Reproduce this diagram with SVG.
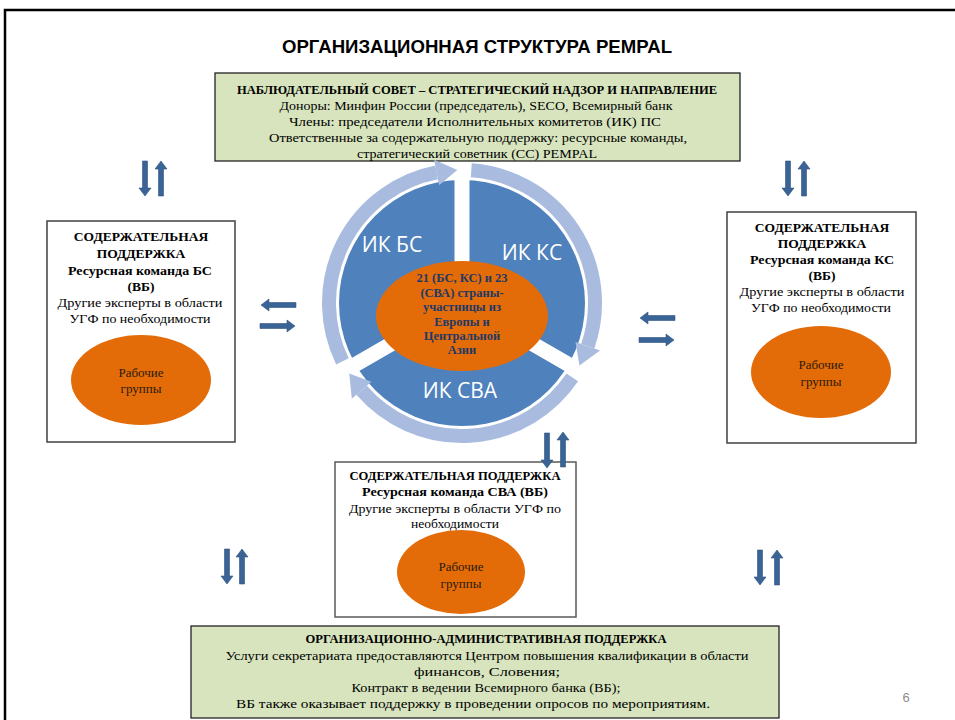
<svg xmlns="http://www.w3.org/2000/svg" width="955" height="720" viewBox="0 0 955 720">
<style>
.t{font-family:"Liberation Serif","DejaVu Serif",serif;fill:#000;text-anchor:middle}
.b{font-weight:bold}
.s13{font-size:13.5px}
.s12{font-size:13px}
.box{fill:#fff;stroke:#404040;stroke-width:1.5}
.gbox{fill:#d7e4bd;stroke:#222;stroke-width:1.3}
.wg{fill:#e36c09}
.wgt{font-family:"Liberation Serif","DejaVu Serif",serif;font-size:13px;fill:#2b1a0a;text-anchor:middle}
.ik{font-family:"Open Sans","Liberation Sans",sans-serif;font-size:21px;fill:#fff;text-anchor:middle}
.ring{fill:none;stroke:#a9bcdf;stroke-width:14}
.head{fill:#a9bcdf}
.arr{fill:#3b6496;stroke:#2f5282;stroke-width:0.6}
</style>
<defs>
<path id="ad" d="M-2.5,0 H2.5 V27 H6 L0,35 L-6,27 H-2.5 Z"/>
</defs>
<rect width="955" height="720" fill="#fff"/>
<path d="M5,720 V10 H955" fill="none" stroke="#000" stroke-width="2.5"/>
<text x="477" y="53" font-family="Liberation Sans,Arial,sans-serif" font-weight="bold" font-size="17.5" text-anchor="middle" textLength="390" lengthAdjust="spacingAndGlyphs">ОРГАНИЗАЦИОННАЯ СТРУКТУРА PEMPAL</text>

<g id="supervisory-board">
<rect class="gbox" x="215" y="73" width="525" height="88"/>
<text class="t b s13" x="477" y="94" textLength="480" lengthAdjust="spacingAndGlyphs">НАБЛЮДАТЕЛЬНЫЙ СОВЕТ – СТРАТЕГИЧЕСКИЙ НАДЗОР И НАПРАВЛЕНИЕ</text>
<text class="t s13" x="476" y="110" textLength="393" lengthAdjust="spacingAndGlyphs">Доноры: Минфин России (председатель), SECO, Всемирный банк</text>
<text class="t s13" x="475" y="126" textLength="372" lengthAdjust="spacingAndGlyphs">Члены: председатели Исполнительных комитетов (ИК) ПС</text>
<text class="t s13" x="478" y="142" textLength="418" lengthAdjust="spacingAndGlyphs">Ответственные за содержательную поддержку: ресурсные команды,</text>
<text class="t s13" x="477" y="158" textLength="240" lengthAdjust="spacingAndGlyphs">стратегический советник (СС) PEMPAL</text>
</g>

<g id="cycle">
<circle cx="462" cy="303" r="123" fill="#4f81bd"/>
<g stroke="#fff" stroke-width="15">
<line x1="462" y1="303" x2="462" y2="175"/>
<line x1="462" y1="303" x2="572" y2="366.5"/>
<line x1="462" y1="303" x2="352" y2="366.5"/>
</g>
<path class="ring" d="M342.46,361.31 A133,133 0 0 1 436.62,172.45"/>
<polygon class="head" points="439.10,185.21 434.14,159.69 457.36,170.08"/>
<path class="ring" d="M471.28,170.32 A133,133 0 0 1 587.75,346.30"/>
<polygon class="head" points="575.46,342.07 600.04,350.54 579.43,365.44"/>
<path class="ring" d="M572.26,377.37 A133,133 0 0 1 361.62,390.26"/>
<polygon class="head" points="371.44,381.73 351.81,398.79 349.22,373.48"/>
<text class="ik" x="392" y="252">ИК БС</text>
<text class="ik" x="532" y="260">ИК КС</text>
<text class="ik" x="460" y="398">ИК СВА</text>
</g>

<g id="member-countries">
<ellipse class="wg" cx="462" cy="316" rx="86" ry="55"/>
<g font-family="Liberation Serif,DejaVu Serif,serif" font-weight="bold" font-size="12.5" fill="#1f3864" text-anchor="middle">
<text x="462" y="282">21 (БС, КС) и 23</text>
<text x="462" y="297">(СВА) страны-</text>
<text x="462" y="311">участницы из</text>
<text x="462" y="326">Европы и</text>
<text x="462" y="340">Центральной</text>
<text x="462" y="354">Азии</text>
</g>
</g>

<g id="support-bs">
<rect class="box" x="47" y="221" width="188" height="221"/>
<text class="t b s13" x="141" y="241">СОДЕРЖАТЕЛЬНАЯ</text>
<text class="t b s13" x="141" y="258">ПОДДЕРЖКА</text>
<text class="t b s13" x="140" y="275" textLength="144" lengthAdjust="spacingAndGlyphs">Ресурсная команда БС</text>
<text class="t b s13" x="141" y="291">(ВБ)</text>
<text class="t s13" x="140" y="307" textLength="165" lengthAdjust="spacingAndGlyphs">Другие эксперты в области</text>
<text class="t s13" x="140" y="323" textLength="141" lengthAdjust="spacingAndGlyphs">УГФ по необходимости</text>
<ellipse class="wg" cx="141" cy="380" rx="70" ry="45"/>
<text class="wgt" x="141" y="377">Рабочие</text>
<text class="wgt" x="141" y="393">группы</text>
</g>

<g id="support-ks">
<rect class="box" x="727" y="212" width="189" height="231"/>
<text class="t b s13" x="822" y="232">СОДЕРЖАТЕЛЬНАЯ</text>
<text class="t b s13" x="822" y="248">ПОДДЕРЖКА</text>
<text class="t b s13" x="822" y="264" textLength="144" lengthAdjust="spacingAndGlyphs">Ресурсная команда КС</text>
<text class="t b s13" x="822" y="280">(ВБ)</text>
<text class="t s13" x="822" y="296" textLength="165" lengthAdjust="spacingAndGlyphs">Другие эксперты в области</text>
<text class="t s13" x="821" y="312" textLength="140" lengthAdjust="spacingAndGlyphs">УГФ по необходимости</text>
<ellipse class="wg" cx="821" cy="372" rx="70" ry="46"/>
<text class="wgt" x="821" y="369">Рабочие</text>
<text class="wgt" x="821" y="386">группы</text>
</g>

<g id="support-sva">
<rect class="box" x="335" y="462" width="241" height="155" style="stroke:#595959"/>
<text class="t b s13" x="455" y="480" textLength="211" lengthAdjust="spacingAndGlyphs">СОДЕРЖАТЕЛЬНАЯ ПОДДЕРЖКА</text>
<text class="t b s13" x="455" y="496" textLength="186" lengthAdjust="spacingAndGlyphs">Ресурсная команда СВА (ВБ)</text>
<text class="t s13" x="455" y="513" textLength="212" lengthAdjust="spacingAndGlyphs">Другие эксперты в области УГФ по</text>
<text class="t s13" x="455" y="528">необходимости</text>
<ellipse class="wg" cx="461" cy="572" rx="64" ry="42"/>
<text class="wgt" x="461" y="571">Рабочие</text>
<text class="wgt" x="461" y="588">группы</text>
</g>

<g id="admin-support">
<rect class="gbox" x="191" y="626" width="588" height="92"/>
<text class="t b s12" x="486" y="643" textLength="361" lengthAdjust="spacingAndGlyphs">ОРГАНИЗАЦИОННО-АДМИНИСТРАТИВНАЯ ПОДДЕРЖКА</text>
<text class="t s12" x="487" y="660" textLength="523" lengthAdjust="spacingAndGlyphs">Услуги секретариата предоставляются Центром повышения квалификации в области</text>
<text class="t s12" x="487" y="676" textLength="146" lengthAdjust="spacingAndGlyphs">финансов, Словения;</text>
<text class="t s12" x="486" y="692" textLength="269" lengthAdjust="spacingAndGlyphs">Контракт в ведении Всемирного банка (ВБ);</text>
<text class="t s12" x="473" y="708" textLength="474" lengthAdjust="spacingAndGlyphs">ВБ также оказывает поддержку в проведении опросов по мероприятиям.</text>
</g>

<g id="connectors">
<use href="#ad" class="arr" transform="translate(145,161)"/>
<use href="#ad" class="arr" transform="translate(161,196) rotate(180)"/>
<use href="#ad" class="arr" transform="translate(788,161)"/>
<use href="#ad" class="arr" transform="translate(804,196) rotate(180)"/>
<use href="#ad" class="arr" transform="translate(547,433)"/>
<use href="#ad" class="arr" transform="translate(563,467) rotate(180)"/>
<use href="#ad" class="arr" transform="translate(227,549)"/>
<use href="#ad" class="arr" transform="translate(242,584) rotate(180)"/>
<use href="#ad" class="arr" transform="translate(760,550)"/>
<use href="#ad" class="arr" transform="translate(777,585) rotate(180)"/>
<use href="#ad" class="arr" transform="translate(296,305) rotate(90)"/>
<use href="#ad" class="arr" transform="translate(260,326) rotate(-90)"/>
<use href="#ad" class="arr" transform="translate(675,318) rotate(90)"/>
<use href="#ad" class="arr" transform="translate(639,340) rotate(-90)"/>
</g>

<text x="906" y="702" font-family="Liberation Sans,Arial,sans-serif" font-size="13" fill="#8c8c8c" text-anchor="middle">6</text>
</svg>
